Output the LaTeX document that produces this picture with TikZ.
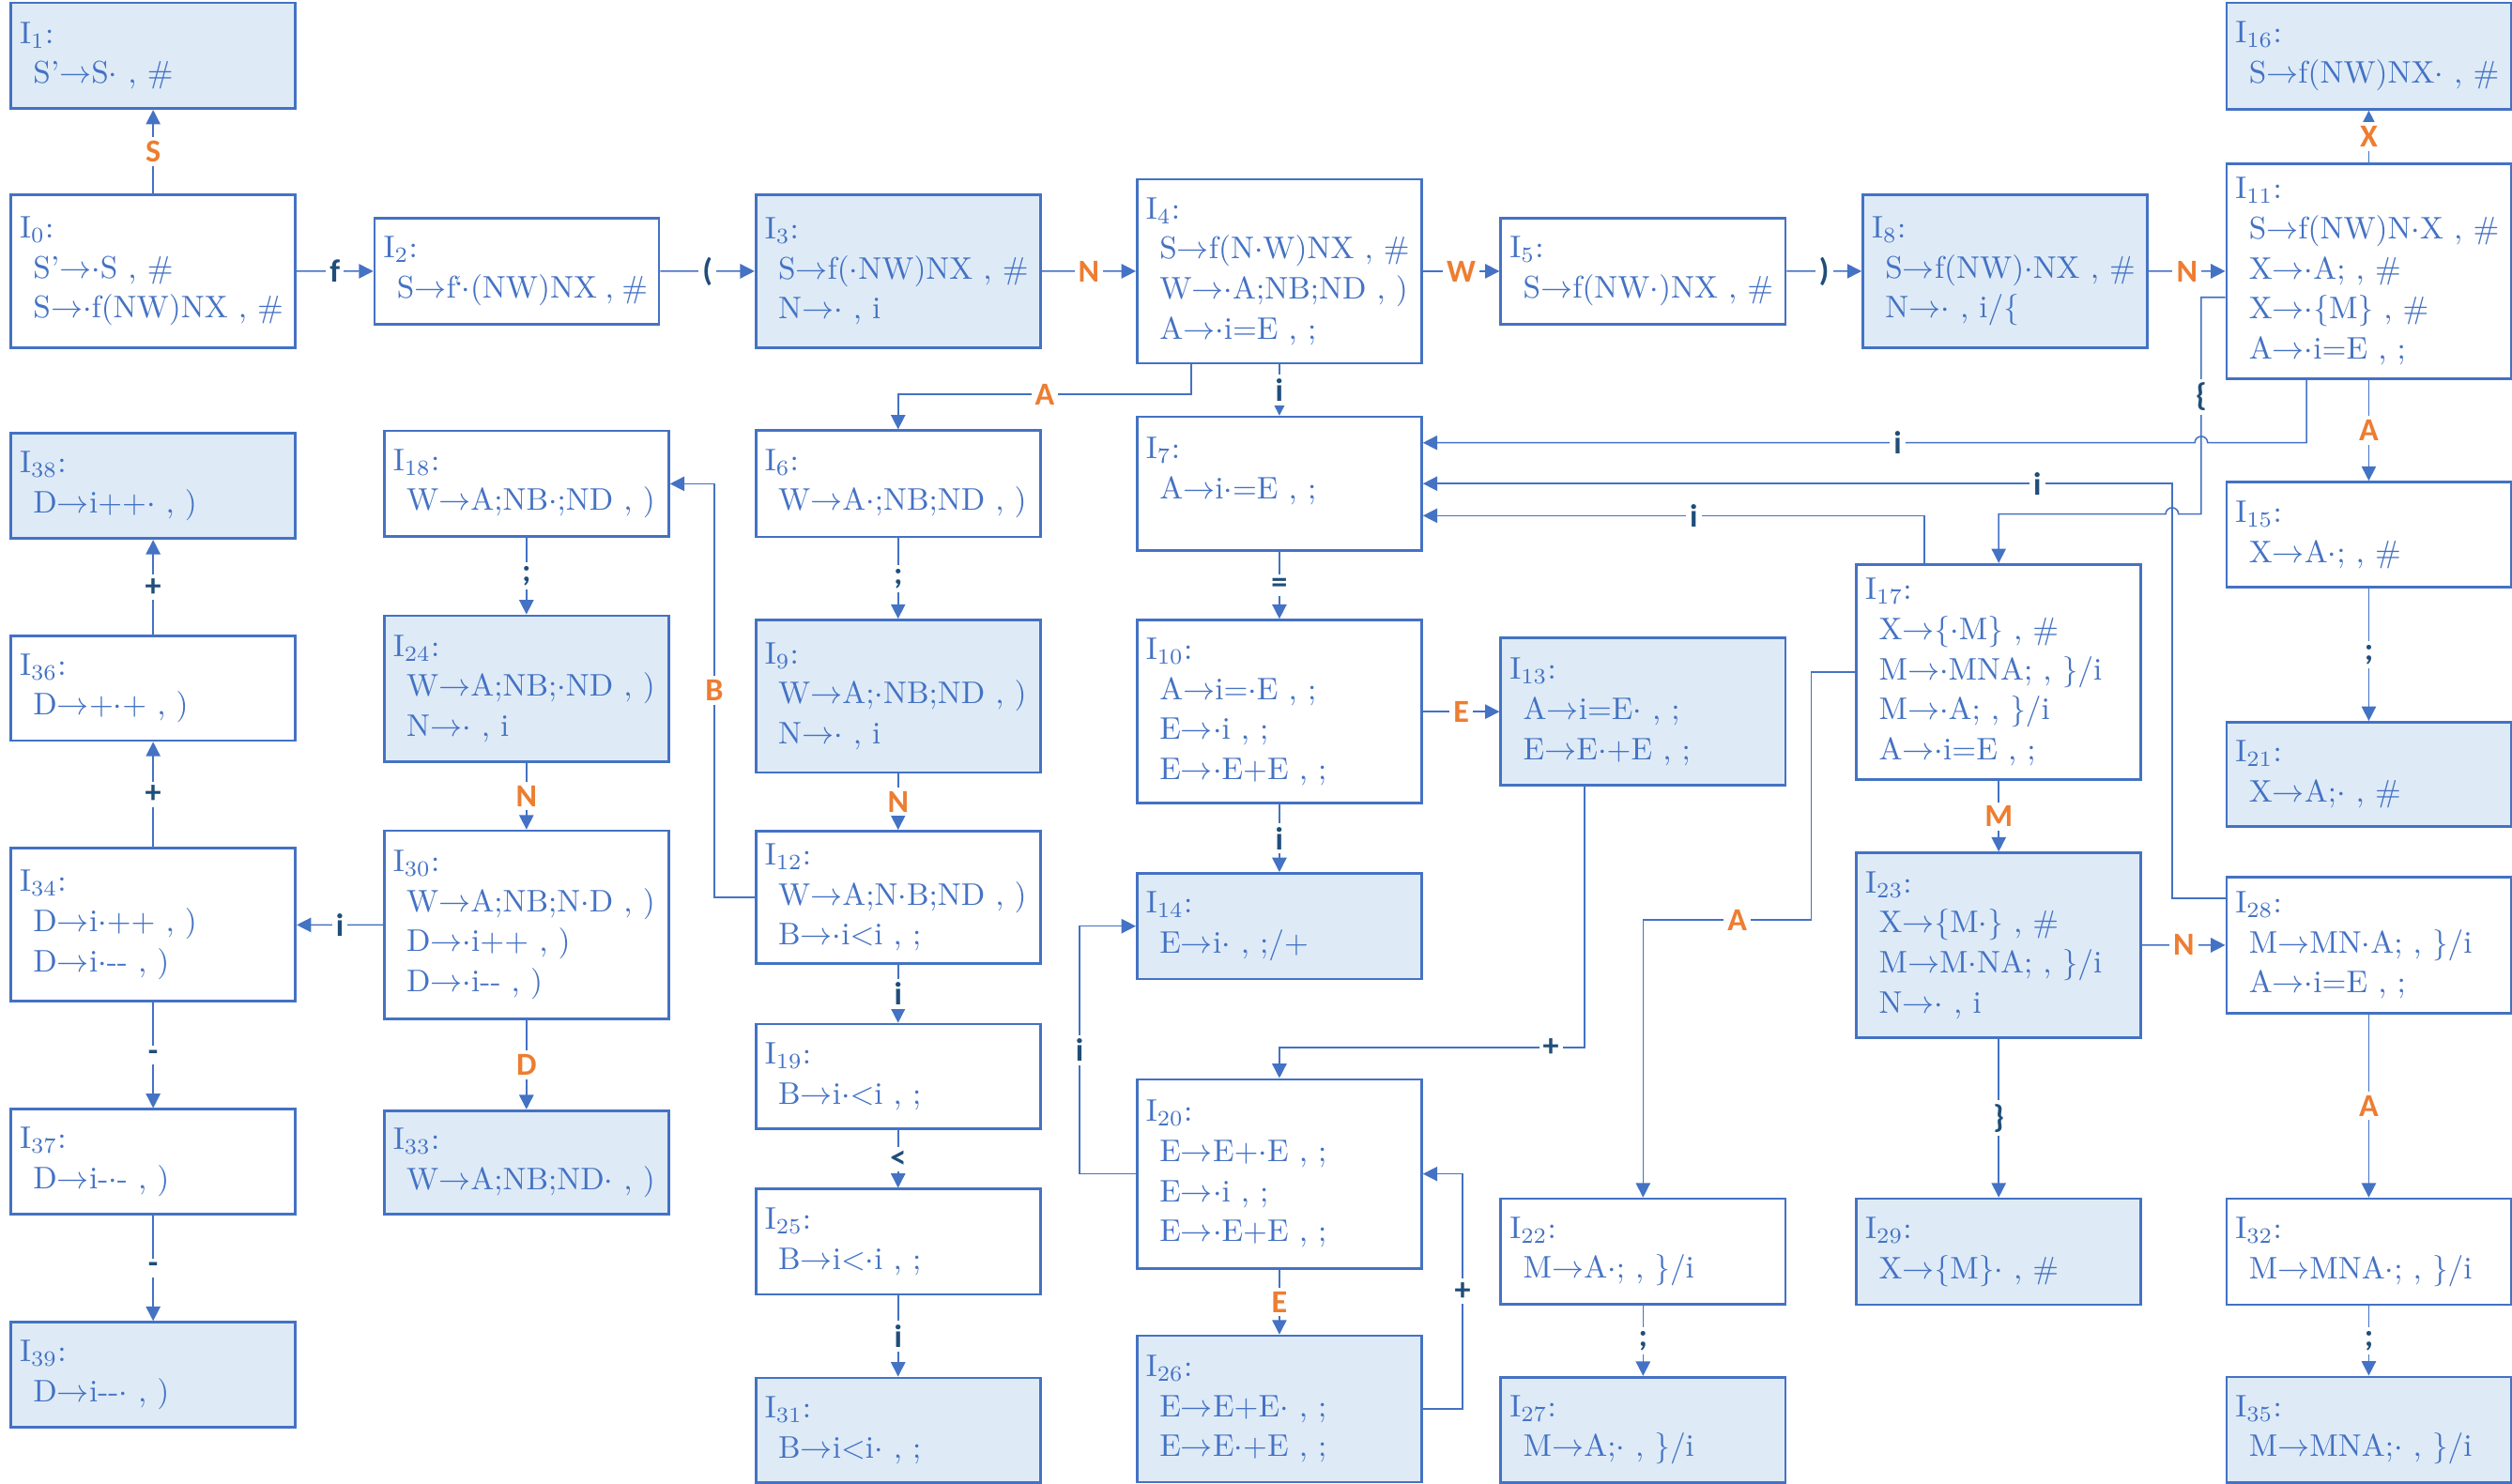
\documentclass[tikz,border=0pt]{standalone}
\usepackage{fontspec}
\usetikzlibrary{arrows.meta}
\newfontfamily\lblfont{Carlito}
\definecolor{boxblue}{HTML}{4472C4}
\definecolor{boxfill}{HTML}{DEEBF7}
\definecolor{ntorange}{HTML}{ED7D31}
\definecolor{tmnavy}{HTML}{1F4E79}
\newcommand{\gto}{$\rightarrow$}
\newcommand{\gpt}{$\cdot$}
\newcommand{\gin}{\hspace*{4.2pt}}
\tikzset{
	stbox/.style={draw=boxblue, line width=0.8pt, fill=white, anchor=north west,
		minimum width=88.8pt, text width=83.2pt, inner xsep=2.8pt, inner ysep=0pt,
		align=left, text=boxblue, font=\fontsize{9.75pt}{12.5pt}\selectfont},
	stfill/.style={stbox, fill=boxfill},
	conn/.style={draw=boxblue, line width=0.45pt, -{Triangle[length=4.5pt, width=4.5pt]}},
	tlbl/.style={fill=white, inner sep=1.2pt, text=tmnavy, font=\lblfont\bfseries\fontsize{10pt}{12pt}\selectfont},
	nlbl/.style={tlbl, text=ntorange}
}
\begin{document}
\begin{tikzpicture}[x=0.5pt, y=-0.5pt]
	\useasboundingbox (0,0) rectangle (1568,926);
	\node[stfill, minimum height=33pt] at (6,1) (I1){I\textsubscript{1}:\\\gin S'\gto S\gpt{} , \#};
	\node[stbox, minimum height=47.8pt] at (6,120.7) (I0){I\textsubscript{0}:\\\gin S'\gto\gpt S , \#\\\gin S\gto\gpt f(NW)NX , \#};
	\node[stbox, minimum height=33pt] at (233,135.5) (I2){I\textsubscript{2}:\\\gin\mbox{S\gto f\kern-0.5pt{`}\kern-0.5pt\gpt(NW)NX\hspace{2.5pt},\hspace{2.5pt}\#}};
	\node[stfill, minimum height=47.8pt] at (471,120.7) (I3){I\textsubscript{3}:\\\gin S\gto f(\gpt NW)NX , \#\\\gin N\gto\gpt{} , i};
	\node[stbox, minimum height=57.4pt] at (709,111.1) (I4){I\textsubscript{4}:\\\gin S\gto f(N\gpt W)NX , \#\\\gin W\gto\gpt A;NB;ND , )\\\gin A\gto\gpt i=E , ;};
	\node[stbox, minimum height=33pt] at (936,135.5) (I5){I\textsubscript{5}:\\\gin S\gto f(NW\gpt)NX , \#};
	\node[stfill, minimum height=47.8pt] at (1162,120.7) (I8){I\textsubscript{8}:\\\gin S\gto f(NW)\gpt NX , \#\\\gin N\gto\gpt{} , i/\{};
	\node[stfill, minimum height=33.2pt] at (1389,1) (I16){I\textsubscript{16}:\\\gin S\gto f(NW)NX\gpt{} , \#};
	\node[stbox, minimum height=67pt] at (1389,101.5) (I11){I\textsubscript{11}:\\\gin S\gto f(NW)N\gpt X , \#\\\gin X\gto\gpt A; , \#\\\gin X\gto\gpt\{M\} , \#\\\gin A\gto\gpt i=E , ;};

	\node[stbox, minimum height=33.2pt] at (471,268) (I6){I\textsubscript{6}:\\\gin W\gto A\gpt;NB;ND , )};
	\node[stbox, minimum height=41.7pt, text depth=22.4pt] at (709,259.4) (I7){I\textsubscript{7}:\\\gin A\gto i\gpt=E , ;};
	\node[stbox, minimum height=33pt] at (239,268.2) (I18){I\textsubscript{18}:\\\gin W\gto A;NB\gpt;ND , )};
	\node[stfill, minimum height=32.8pt] at (6,269.8) (I38){I\textsubscript{38}:\\\gin D\gto i++\gpt{} , )};
	\node[stbox, minimum height=32.6pt] at (6,396.3) (I36){I\textsubscript{36}:\\\gin D\gto +\gpt+ , )};
	\node[stbox, minimum height=47.75pt] at (6,528.8) (I34){I\textsubscript{34}:\\\gin D\gto i\gpt++ , )\\\gin D\gto i\gpt-{}- , )};
	\node[stbox, minimum height=32.8pt] at (6,691.7) (I37){I\textsubscript{37}:\\\gin D\gto i-\gpt- , )};
	\node[stfill, minimum height=32.85pt] at (6,824.6) (I39){I\textsubscript{39}:\\\gin D\gto i-{}-\gpt{} , )};
	\node[stfill, minimum height=45.6pt] at (239,383.5) (I24){I\textsubscript{24}:\\\gin W\gto A;NB;\gpt ND , )\\\gin N\gto\gpt{} , i};
	\node[stbox, minimum height=58.8pt] at (239,517.8) (I30){I\textsubscript{30}:\\\gin W\gto A;NB;N\gpt D , )\\\gin D\gto\gpt i++ , )\\\gin D\gto\gpt i-{}- , )};
	\node[stfill, minimum height=32.4pt] at (239,692.5) (I33){I\textsubscript{33}:\\\gin W\gto A;NB;ND\gpt{} , )};
	\node[stfill, minimum height=47.6pt] at (471,386.2) (I9){I\textsubscript{9}:\\\gin W\gto A;\gpt NB;ND , )\\\gin N\gto\gpt{} , i};
	\node[stbox, minimum height=41.3pt] at (471,518) (I12){I\textsubscript{12}:\\\gin W\gto A;N\gpt B;ND , )\\\gin B\gto\gpt i<i , ;};
	\node[stbox, minimum height=32.75pt] at (471,638.5) (I19){I\textsubscript{19}:\\\gin B\gto i\gpt<i , ;};
	\node[stbox, minimum height=32.85pt] at (471,741.5) (I25){I\textsubscript{25}:\\\gin B\gto i<\gpt i , ;};
	\node[stfill, minimum height=32.75pt] at (471,859.3) (I31){I\textsubscript{31}:\\\gin B\gto i<i\gpt{} , ;};
	\node[stbox, minimum height=57.15pt] at (709,386.3) (I10){I\textsubscript{10}:\\\gin A\gto i=\gpt E , ;\\\gin E\gto\gpt i , ;\\\gin E\gto\gpt E+E , ;};
	\node[stfill, minimum height=45.95pt] at (936,397.5) (I13){I\textsubscript{13}:\\\gin A\gto i=E\gpt{} , ;\\\gin E\gto E\gpt+E , ;};
	\node[stfill, minimum height=32.95pt] at (709,544.4) (I14){I\textsubscript{14}:\\\gin E\gto i\gpt{} , ;/+};
	\node[stbox, minimum height=59pt] at (709,673) (I20){I\textsubscript{20}:\\\gin E\gto E+\gpt E , ;\\\gin E\gto\gpt i , ;\\\gin E\gto\gpt E+E , ;};
	\node[stfill, minimum height=45.7pt] at (709,833) (I26){I\textsubscript{26}:\\\gin E\gto E+E\gpt{} , ;\\\gin E\gto E\gpt+E , ;};
	\node[stbox, minimum height=33pt] at (936,747.5) (I22){I\textsubscript{22}:\\\gin M\gto A\gpt; , \}/i};
	\node[stfill, minimum height=32.95pt] at (936,858.9) (I27){I\textsubscript{27}:\\\gin M\gto A;\gpt{} , \}/i};
	\node[stbox, minimum height=67.25pt] at (1158,351.5) (I17){I\textsubscript{17}:\\\gin X\gto\{\gpt M\} , \#\\\gin M\gto\gpt MNA; , \}/i\\\gin M\gto\gpt A; , \}/i\\\gin A\gto\gpt i=E , ;};
	\node[stfill, minimum height=57.6pt] at (1158,531.6) (I23){I\textsubscript{23}:\\\gin X\gto\{M\gpt\} , \#\\\gin M\gto M\gpt NA; , \}/i\\\gin N\gto\gpt{} , i};
	\node[stfill, minimum height=33.05pt] at (1158,747.5) (I29){I\textsubscript{29}:\\\gin X\gto\{M\}\gpt{} , \#};
	\node[stbox, minimum height=32.85pt] at (1389,300.1) (I15){I\textsubscript{15}:\\\gin X\gto A\gpt; , \#};
	\node[stfill, minimum height=32.55pt] at (1389,450) (I21){I\textsubscript{21}:\\\gin X\gto A;\gpt{} , \#};
	\node[stbox, minimum height=42.4pt] at (1389,546.8) (I28){I\textsubscript{28}:\\\gin M\gto MN\gpt A; , \}/i\\\gin A\gto\gpt i=E , ;};
	\node[stbox, minimum height=33.05pt] at (1389,747.5) (I32){I\textsubscript{32}:\\\gin M\gto MNA\gpt; , \}/i};
	\node[stfill, minimum height=33.05pt] at (1389,858.7) (I35){I\textsubscript{35}:\\\gin M\gto MNA;\gpt{} , \}/i};

	\draw[conn] (I0) -- node[nlbl]{S} (I1);
	\draw[conn] (I0) -- node[tlbl]{f} (I2);
	\draw[conn] (I2) -- node[tlbl]{(} (I3);
	\draw[conn] (I3) -- node[nlbl]{N} (I4);
	\draw[conn] (I4) -- node[nlbl]{W} (I5);
	\draw[conn] (I5) -- node[tlbl]{)} (I8);
	\draw[conn] (I8) -- node[nlbl]{N} (I11);
	\draw[conn] (I11) -- node[nlbl]{X} (I16);
	\draw[conn] (I11) -- node[nlbl]{A} (I15);
	\draw[conn] (I15) -- node[tlbl]{;} (I21);
	\draw[conn] (I4) -- node[tlbl]{i} (I7);
	\draw[conn] (I7) -- node[tlbl]{=} (I10);
	\draw[conn] (I10) -- node[nlbl]{E} (I13);
	\draw[conn] (I10) -- node[tlbl]{i} (I14);
	\draw[conn] (I20) -- node[nlbl]{E} (I26);
	\draw[conn] (I6) -- node[tlbl]{;} (I9);
	\draw[conn] (I9) -- node[nlbl]{N} (I12);
	\draw[conn] (I12) -- node[tlbl]{i} (I19);
	\draw[conn] (I19) -- node[tlbl]{<} (I25);
	\draw[conn] (I25) -- node[tlbl]{i} (I31);
	\draw[conn] (I18) -- node[tlbl]{;} (I24);
	\draw[conn] (I24) -- node[nlbl]{N} (I30);
	\draw[conn] (I30) -- node[nlbl]{D} (I33);
	\draw[conn] (I30) -- node[tlbl]{i} (I34);
	\draw[conn] (I34) -- node[tlbl]{+} (I36);
	\draw[conn] (I36) -- node[tlbl]{+} (I38);
	\draw[conn] (I34) -- node[tlbl]{-} (I37);
	\draw[conn] (I37) -- node[tlbl]{-} (I39);
	\draw[conn] (I17) -- node[nlbl]{M} (I23);
	\draw[conn] (I23) -- node[nlbl]{N} (I28);
	\draw[conn] (I23) -- node[tlbl]{\}} (I29);
	\draw[conn] (I28) -- node[nlbl]{A} (I32);
	\draw[conn] (I32) -- node[tlbl]{;} (I35);
	\draw[conn] (I22) -- node[tlbl]{;} (I27);

	\draw[conn] (I4.south -| 743.7,0) |- node[nlbl, pos=.75]{A} (I6.north |- 0,246.1) -- (I6.north);
	\draw[conn] (I12.west) -- (I12.west -| 445.9,0) |- node[nlbl, pos=.25]{B} (I18.east);
	\draw[conn] (I20.west) -- (I20.west -| 673.8,0) |- node[tlbl, pos=.25]{i} (I14.west);
	\draw[conn] (I26.east) -- (I26.east -| 913,0) |- node[tlbl, pos=.25]{+} (I20.east);
	\draw[conn] (I13.south -| 989,0) -- (989,654) -| node[tlbl, pos=.055]{+} (I20.north);
	\draw[conn] (I17.west) -| (1130.6,574.2) -| node[nlbl, pos=.22]{A} (I22.north);
	\draw[conn] (I17.north -| 1201.3,0) |- node[tlbl, pos=.73]{i} (I7.east |- 0,321.9);
	\draw[conn] (I28.west |- 0,560.8) -| (I7.east -| 1355.8,0) -- node[tlbl, pos=.18]{i} (I7.east);
	\draw[conn] (I11.south -| 1439.7,0) |- (1378,276.4)
		arc[start angle=0, end angle=180, radius=2pt]
		-- node[tlbl, pos=.385]{i} (I7.east |- 0,276.4);
	\draw[conn] (I11.west |- 0,185.6) -- (1374,185.6)
		-- node[tlbl, pos=.46]{\{} (1374,320.9) -- (1359.8,320.9)
		arc[start angle=0, end angle=180, radius=2pt] -| (I17.north);
\end{tikzpicture}
\end{document}
